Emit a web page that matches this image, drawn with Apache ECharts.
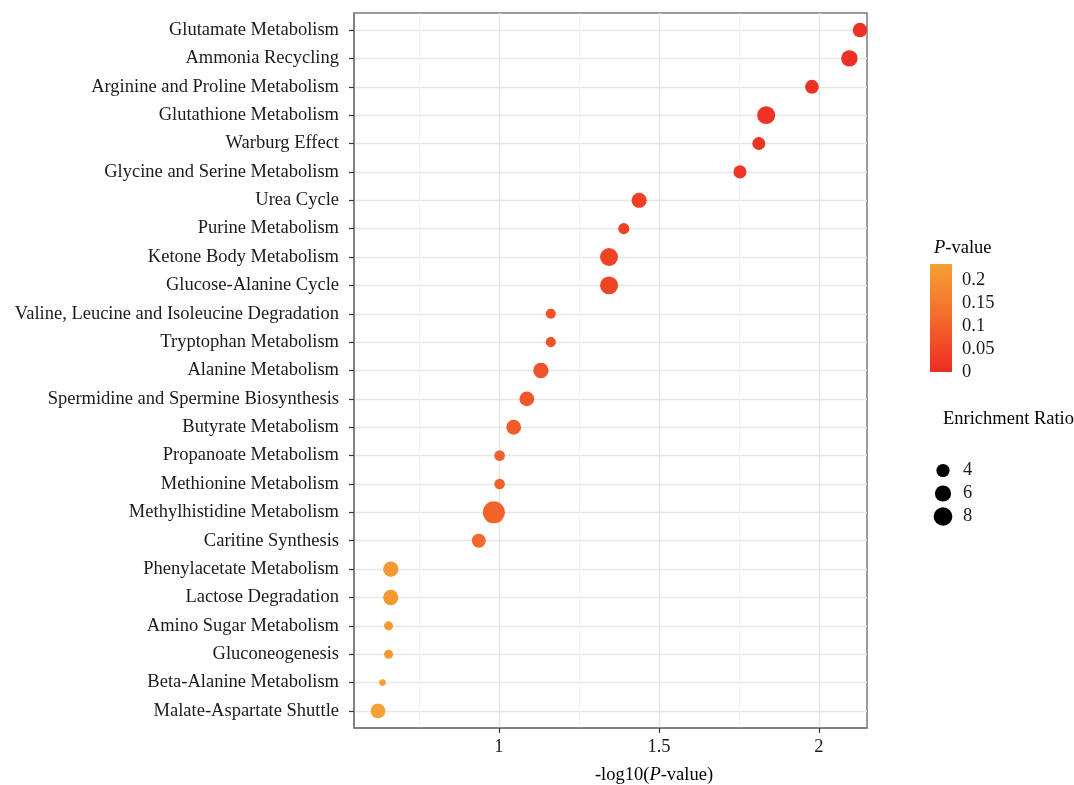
<!DOCTYPE html>
<html>
<head>
<meta charset="utf-8">
<script src="https://cdn.jsdelivr.net/npm/echarts@6/dist/echarts.min.js"></script>
<style>
html,body{margin:0;padding:0;background:#fff;}
#chart{width:1074px;height:785px;}
</style>
</head>
<body>
<div id="chart"></div>
<script>
// Pathways, top to bottom
const categories = [
  'Glutamate Metabolism','Ammonia Recycling','Arginine and Proline Metabolism',
  'Glutathione Metabolism','Warburg Effect','Glycine and Serine Metabolism',
  'Urea Cycle','Purine Metabolism','Ketone Body Metabolism','Glucose-Alanine Cycle',
  'Valine, Leucine and Isoleucine Degradation','Tryptophan Metabolism','Alanine Metabolism',
  'Spermidine and Spermine Biosynthesis','Butyrate Metabolism','Propanoate Metabolism',
  'Methionine Metabolism','Methylhistidine Metabolism','Caritine Synthesis',
  'Phenylacetate Metabolism','Lactose Degradation','Amino Sugar Metabolism',
  'Gluconeogenesis','Beta-Alanine Metabolism','Malate-Aspartate Shuttle'
];
// -log10(P-value)
const negLogP = [
  2.128, 2.095, 1.978, 1.835, 1.812, 1.753, 1.438, 1.390, 1.344, 1.344,
  1.162, 1.162, 1.131, 1.087, 1.046, 1.002, 1.002, 0.984, 0.937,
  0.662, 0.662, 0.655, 0.655, 0.636, 0.622
];
// Enrichment ratio
const enrichment = [
  4.8, 6.2, 4.4, 7.4, 3.9, 3.9, 5.3, 2.8, 7.4, 7.4,
  2.3, 2.3, 5.4, 5.0, 5.0, 2.6, 2.6, 11.1, 4.5,
  5.4, 5.4, 1.9, 1.9, 1.0, 5.0
];
const xTicks = [1, 1.5, 2];
const xMinorTicks = [0.75, 1.25, 1.75];
const pTicks = [0, 0.05, 0.1, 0.15, 0.2];
const sizeBreaks = ['4', '6', '8'];

const FONT = 'Liberation Serif';
const FS = 18.5;
const COLORS = ['#EE2C24', '#F36A2C', '#F7A033'];
const P_MAX = 0.235;
const sizeOf = v => 6.6 * Math.sqrt(v);

const points = categories.map((c, i) => [negLogP[i], i, enrichment[i], Math.pow(10, -negLogP[i])]);
const rowIdx = categories.map((c, i) => i);

const chart = echarts.init(document.getElementById('chart'));
chart.setOption({
  animation: false,
  backgroundColor: '#fff',
  textStyle: { fontFamily: FONT },
  title: [
    { text: '{i|P}-value', left: 929, top: 234,
      textStyle: { fontFamily: FONT, fontSize: FS, fontWeight: 'normal', color: '#000',
        rich: { i: { fontFamily: FONT, fontStyle: 'italic', fontSize: FS, color: '#000' } } } },
    { text: 'Enrichment Ratio', left: 938, top: 405,
      textStyle: { fontFamily: FONT, fontSize: FS, fontWeight: 'normal', color: '#000' } },
    { text: '-log10({i|P}-value)', left: 649, top: 761, textAlign: 'center',
      textStyle: { fontFamily: FONT, fontSize: FS, fontWeight: 'normal', color: '#000',
        rich: { i: { fontFamily: FONT, fontStyle: 'italic', fontSize: FS, color: '#000' } } } }
  ],
  grid: [
    { left: 354, right: 207, top: 13, bottom: 57, show: true, borderColor: '#7a7a7a', borderWidth: 1.5, backgroundColor: '#fff' },
    { left: 930, width: 22, top: 264, height: 108 },
    { left: 932, width: 22, top: 459, height: 69 }
  ],
  xAxis: [
    { type: 'value', gridIndex: 0, min: 0.547, max: 2.15,
      axisLine: { show: true, onZero: false, lineStyle: { color: '#7a7a7a', width: 1.5 } },
      axisTick: { show: true, length: 5, customValues: xTicks, lineStyle: { color: '#333', width: 1.2 } },
      axisLabel: { customValues: xTicks, margin: 10, fontFamily: FONT, fontSize: FS, color: '#1a1a1a',
        formatter: v => String(v) },
      splitLine: { show: true, lineStyle: { color: '#e6e6e6', width: 1.4 } } },
    { type: 'value', gridIndex: 0, min: 0.547, max: 2.15, position: 'top',
      axisLine: { show: false, onZero: false },
      axisTick: { show: false, customValues: xMinorTicks },
      axisLabel: { show: false, customValues: xMinorTicks },
      splitLine: { show: true, lineStyle: { color: '#efefef', width: 0.8 } } },
    { type: 'category', gridIndex: 1, data: ['bar'], show: false },
    { type: 'value', gridIndex: 2, min: 0, max: 1, show: false }
  ],
  yAxis: [
    { type: 'value', gridIndex: 0, min: -0.6, max: categories.length - 0.4, inverse: true,
      axisLine: { show: true, onZero: false, lineStyle: { color: '#7a7a7a', width: 1.5 } },
      axisTick: { show: true, length: 5, customValues: rowIdx, lineStyle: { color: '#333', width: 1.2 } },
      axisLabel: { customValues: rowIdx, margin: 15, fontFamily: FONT, fontSize: FS, color: '#1a1a1a',
        formatter: v => categories[Math.round(v)] || '' },
      splitLine: { show: true, lineStyle: { color: '#e6e6e6', width: 1.4 } } },
    { type: 'value', gridIndex: 1, min: 0, max: P_MAX, position: 'right',
      axisLine: { show: false, onZero: false },
      axisTick: { show: true, inside: true, length: 4, customValues: pTicks, lineStyle: { color: 'rgba(255,255,255,0.8)', width: 1 } },
      axisLabel: { customValues: pTicks, margin: 10, fontFamily: FONT, fontSize: FS, color: '#1a1a1a', formatter: v => String(v) },
      splitLine: { show: false } },
    { type: 'value', gridIndex: 1, min: 0, max: P_MAX, position: 'left',
      axisLine: { show: false, onZero: false },
      axisTick: { show: true, inside: true, length: 4, customValues: pTicks, lineStyle: { color: 'rgba(255,255,255,0.8)', width: 1 } },
      axisLabel: { show: false, customValues: pTicks },
      splitLine: { show: false } },
    { type: 'category', gridIndex: 2, data: sizeBreaks, inverse: true, position: 'right',
      axisLine: { show: false, onZero: false }, axisTick: { show: false },
      axisLabel: { interval: 0, margin: 9, fontFamily: FONT, fontSize: FS, color: '#1a1a1a' } }
  ],
  visualMap: {
    show: false, type: 'continuous', seriesIndex: 0, dimension: 3,
    min: 0, max: P_MAX, inRange: { color: COLORS }
  },
  series: [
    { type: 'scatter', xAxisIndex: 0, yAxisIndex: 0, data: points,
      symbolSize: d => sizeOf(d[2]), itemStyle: { opacity: 1 }, z: 5 },
    { type: 'bar', xAxisIndex: 2, yAxisIndex: 1, data: [P_MAX], barWidth: 22, silent: true, z: 1,
      itemStyle: { color: new echarts.graphic.LinearGradient(0, 1, 0, 0, [
        { offset: 0, color: COLORS[0] }, { offset: 0.5, color: COLORS[1] }, { offset: 1, color: COLORS[2] }
      ]) } },
    { type: 'scatter', xAxisIndex: 3, yAxisIndex: 3,
      data: sizeBreaks.map(s => [0.5, s, Number(s)]),
      symbolSize: d => sizeOf(d[2]), itemStyle: { color: '#000', opacity: 1 } }
  ]
});
</script>
</body>
</html>
